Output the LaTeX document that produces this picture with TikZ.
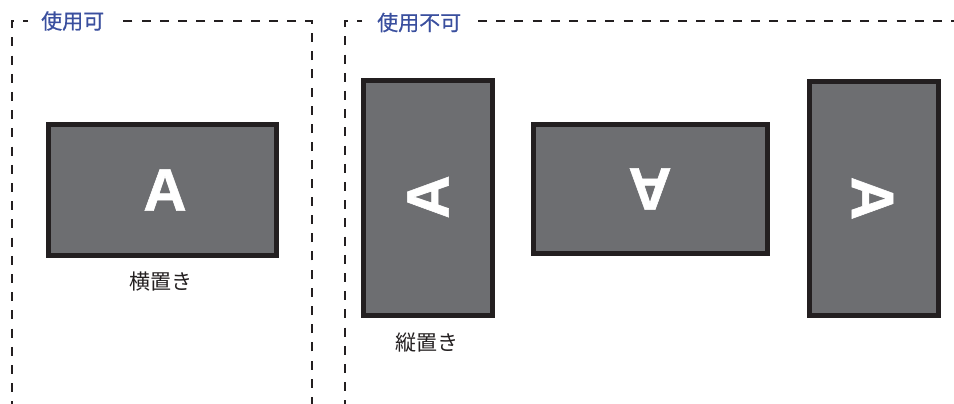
\documentclass[tikz,border=0pt]{standalone}
\usepackage{fontspec}
\newfontfamily\jpfont{Noto Sans CJK JP}
\newfontfamily\jpmedium[FakeBold=0.6]{Noto Sans CJK JP}
\newfontfamily\letterfont[UprightFont={* Bold},FakeBold=1]{Liberation Sans}
\definecolor{screenfill}{HTML}{6D6E71}
\definecolor{screenline}{HTML}{231F20}
\definecolor{headblue}{HTML}{3A4F9E}
\tikzset{
  x=1pt,y=-1pt,
  screenbox/.style={draw=screenline,fill=screenfill,line width=5pt,inner sep=0pt,minimum width=#1},
  zonedash/.style={draw=screenline,line width=2pt,dash pattern=on 9pt off 9.2pt},
  headtext/.style={font=\jpmedium\fontsize{21}{22}\selectfont,text=headblue,inner sep=0pt,anchor=west},
  captext/.style={font=\jpfont\fontsize{21}{22}\selectfont,text=screenline,inner sep=0pt},
  letter/.style={font=\letterfont\fontsize{60}{60}\selectfont,text=white,inner sep=0pt}
}
\begin{document}
\begin{tikzpicture}
\useasboundingbox (0,0) rectangle (954,404);
% zones
\coordinate (lz1) at (28,21.5);
\coordinate (lz2) at (11.5,21.5);
\coordinate (lz3) at (11.5,404);
\coordinate (lz4) at (118,21.5);
\coordinate (lz5) at (312,21.5);
\coordinate (lz6) at (312,404);
\coordinate (rz1) at (362,21.5);
\coordinate (rz2) at (344.5,21.5);
\coordinate (rz3) at (344.5,404);
\coordinate (rz4) at (478,21.5);
\coordinate (rz5) at (954,21.5);
\draw[zonedash,dash phase=4pt] (lz1) -- (lz2) -- (lz3);
\draw[zonedash,dash phase=2pt] (lz6) -- (lz5) -- (lz4);
\draw[zonedash,dash phase=4pt] (rz1) -- (rz2) -- (rz3);
\draw[zonedash] (rz4) -- (rz5);
% headings
\node[headtext] (h1) at (41,21) {使用可};
\node[headtext] (h2) at (377,22.5) {使用不可};
% screens
\node[screenbox=228pt,minimum height=131pt] (s1) at (162.5,190) {};
\node[screenbox=129pt,minimum height=234pt] (s2) at (427.5,198) {};
\node[screenbox=234pt,minimum height=129pt] (s3) at (650.5,188.5) {};
\node[screenbox=129pt,minimum height=234pt] (s4) at (874,198.5) {};
\node[letter] (a1) at (165,190) {A};
\node[letter,rotate=90] (a2) at (428,197) {A};
\node[letter,rotate=180] (a3) at (650,189) {A};
\node[letter,rotate=-90] (a4) at (872.5,198.5) {A};
% captions
\node[captext] (c1) at (160.5,282) {横置き};
\node[captext] (c2) at (427,343) {縦置き};
\end{tikzpicture}
\end{document}
